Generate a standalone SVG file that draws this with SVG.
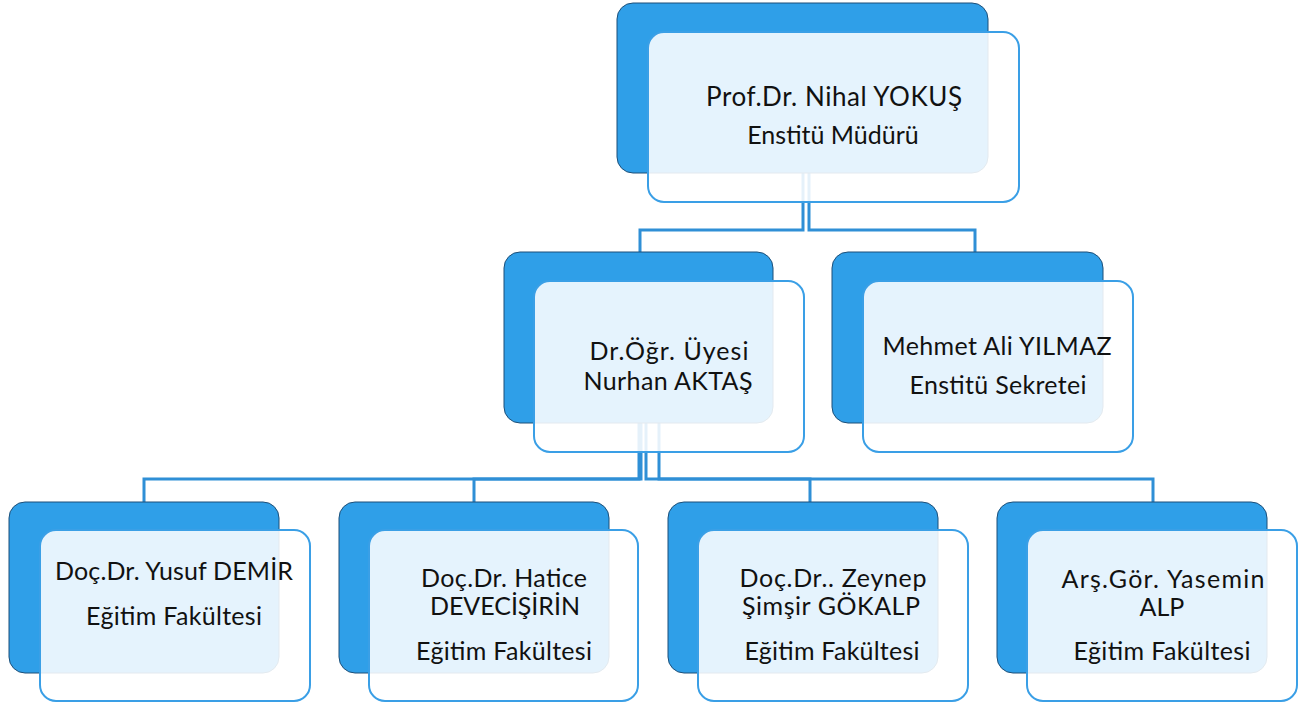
<svg xmlns="http://www.w3.org/2000/svg" width="1306" height="707" viewBox="0 0 1306 707">
<style>
.back{fill:#2f9fe8;stroke:#1d4f78;stroke-width:1}
.front{fill:#ffffff;fill-opacity:0.88;stroke:#3a9fe6;stroke-width:2}
.conn{fill:none;stroke:#2f8fd6;stroke-width:3}
text{font-family:Lato,"Noto Sans",sans-serif;font-size:25px;fill:#111;text-anchor:middle}
.big{font-size:26px}
</style>
<rect width="1306" height="707" fill="#fff"/>
<g id="connectors">
<path class="conn" d="M803,173 V230 H640 V252"/>
<path class="conn" d="M809,173 V230 H975 V252"/>
<path class="conn" d="M639,423 V479 H144 V502"/>
<path class="conn" d="M641,423 V479 H474 V502"/>
<path class="conn" d="M646,423 V479 H810 V502"/>
<path class="conn" d="M659,423 V479 H1153 V502"/>
</g>
<g id="n_yokus">
<rect class="back" x="617" y="3" width="371" height="170" rx="16"/>
<rect class="front" x="648" y="32" width="371" height="170" rx="16"/>
<text class="big" x="834" y="106" textLength="256" lengthAdjust="spacing">Prof.Dr. Nihal YOKUŞ</text>
<text x="833" y="144">Enstitü Müdürü</text>
</g>
<g id="n_aktas">
<rect class="back" x="504" y="252" width="269" height="171" rx="16"/>
<rect class="front" x="534" y="281" width="270" height="171" rx="16"/>
<text x="669" y="360" textLength="159" lengthAdjust="spacing">Dr.Öğr. Üyesi</text>
<text x="668" y="390" textLength="169" lengthAdjust="spacing">Nurhan AKTAŞ</text>
</g>
<g id="n_yilmaz">
<rect class="back" x="832" y="252" width="271" height="171" rx="16"/>
<rect class="front" x="863" y="281" width="270" height="171" rx="16"/>
<text x="997" y="355" textLength="229" lengthAdjust="spacing">Mehmet Ali YILMAZ</text>
<text x="998" y="394" textLength="177" lengthAdjust="spacing">Enstitü Sekretei</text>
</g>
<g id="n_demir">
<rect class="back" x="9" y="502" width="270" height="171" rx="16"/>
<rect class="front" x="40" y="530" width="270" height="171" rx="16"/>
<text x="174" y="580" textLength="238" lengthAdjust="spacing">Doç.Dr. Yusuf DEMİR</text>
<text x="174" y="625" textLength="176" lengthAdjust="spacing">Eğitim Fakültesi</text>
</g>
<g id="n_devecisirin">
<rect class="back" x="339" y="502" width="270" height="171" rx="16"/>
<rect class="front" x="369" y="530" width="269" height="171" rx="16"/>
<text x="504" y="587" textLength="166" lengthAdjust="spacing">Doç.Dr. Hatice</text>
<text x="505" y="615" textLength="150" lengthAdjust="spacing">DEVECİŞİRİN</text>
<text x="504" y="660" textLength="176" lengthAdjust="spacing">Eğitim Fakültesi</text>
</g>
<g id="n_gokalp">
<rect class="back" x="668" y="502" width="270" height="171" rx="16"/>
<rect class="front" x="698" y="530" width="270" height="171" rx="16"/>
<text x="833" y="587" textLength="187" lengthAdjust="spacing">Doç.Dr.. Zeynep</text>
<text x="831" y="615" textLength="178" lengthAdjust="spacing">Şimşir GÖKALP</text>
<text x="832" y="660" textLength="175" lengthAdjust="spacing">Eğitim Fakültesi</text>
</g>
<g id="n_alp">
<rect class="back" x="997" y="502" width="270" height="171" rx="16"/>
<rect class="front" x="1027" y="530" width="270" height="171" rx="16"/>
<text x="1163" y="588" textLength="203" lengthAdjust="spacing">Arş.Gör. Yasemin</text>
<text x="1162" y="616">ALP</text>
<text x="1162" y="660" textLength="177" lengthAdjust="spacing">Eğitim Fakültesi</text>
</g>
</svg>
